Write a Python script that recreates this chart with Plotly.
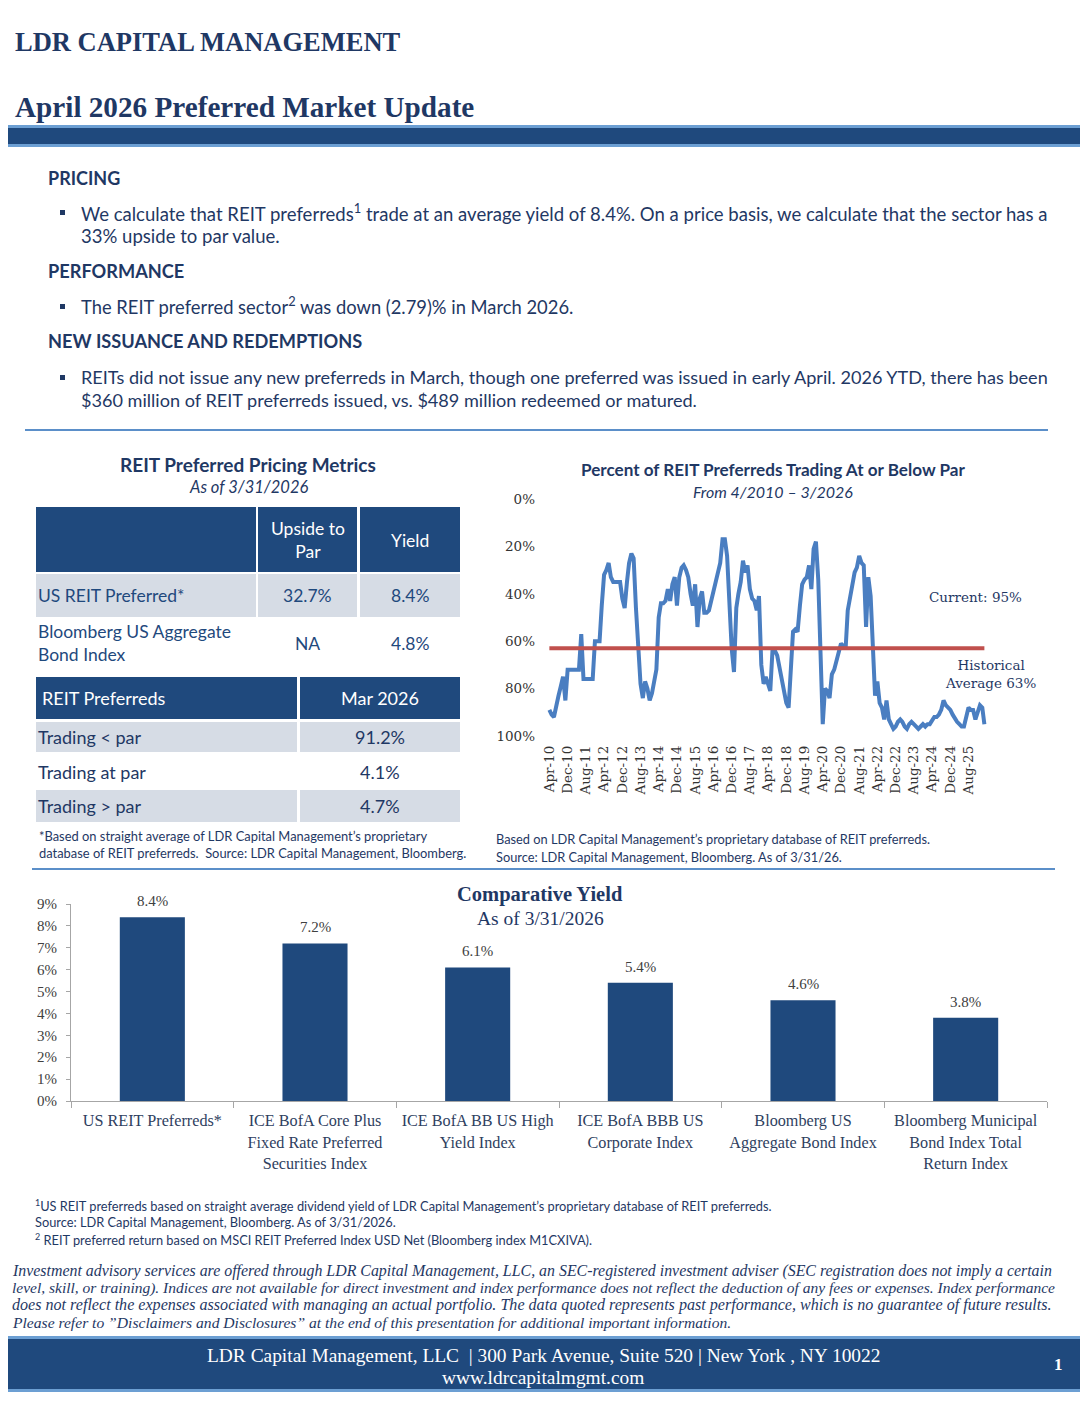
import plotly.graph_objects as go
import pandas as pd

# ---------------- DATA ----------------
pct_below_par = [
    89, 91, 92, 87, 83, 79, 75, 85, 72, 72, 72, 72, 72, 72, 57, 76, 76, 76, 76, 76,
    60, 60, 60, 45, 32, 30, 27, 33, 35, 35, 35, 35, 42, 46, 35, 27, 23, 25, 46, 62,
    78, 84, 77, 80, 85, 82, 77, 72, 50, 44, 44, 43, 38, 43, 36, 33, 45, 33, 29, 28,
    30, 33, 40, 45, 36, 54, 42, 39, 48, 48, 47, 43, 38, 34, 30, 27, 17, 17, 24, 45,
    63, 73, 46, 40, 35, 26, 31, 28, 38, 42, 43, 47, 41, 70, 78, 75, 78, 81, 63, 64,
    66, 71, 77, 82, 86, 88, 73, 56, 55, 56, 45, 36, 34, 33, 28, 38, 21, 18, 34, 70,
    95, 80, 81, 84, 74, 72, 68, 64, 61, 62, 63, 47, 42, 38, 31, 29, 24, 27, 28, 54,
    33, 41, 63, 83, 77, 86, 88, 93, 85, 93, 95, 97, 96, 94, 93, 94, 96, 97, 95, 94,
    95, 96, 97, 96, 95, 96, 95, 95, 93, 92, 92, 91, 89, 85, 87, 88, 89, 91, 93, 94,
    95, 96, 96, 92, 88, 89, 89, 93, 90, 87, 88, 95,
]
series_start = "2010-04-01"
hist_avg = 63
current_val = 95
y_ticks = [0, 20, 40, 60, 80, 100]

bar_categories = [
    "US REIT Preferreds*",
    "ICE BofA Core Plus<br>Fixed Rate Preferred<br>Securities Index",
    "ICE BofA BB US High<br>Yield Index",
    "ICE BofA BBB US<br>Corporate Index",
    "Bloomberg US<br>Aggregate Bond Index",
    "Bloomberg Municipal<br>Bond Index Total<br>Return Index",
]
bar_values = [8.4, 7.2, 6.1, 5.4, 4.6, 3.8]

tbl1_cols = ["", "Upside to<br>Par", "Yield"]
tbl1_rows = [
    ["US REIT Preferred*", "32.7%", "8.4%"],
    ["Bloomberg US Aggregate<br>Bond Index", "NA", "4.8%"],
]
tbl2_cols = ["REIT Preferreds", "Mar 2026"]
tbl2_rows = [
    ["Trading < par", "91.2%"],
    ["Trading at par", "4.1%"],
    ["Trading > par", "4.7%"],
]

# ---------------- STYLE ----------------
# The page body keeps an 8px margin, so the figure is 16px smaller than the window
OFF = 8
W, H = 1088 - 2 * OFF, 1408 - 2 * OFF
NAVY = "#1F497D"
DNAVY = "#1F3864"
LBLUE = "#6C9FD3"
GRAY_ROW = "#D6DCE5"
LINE_BLUE = "#4A7EC1"
RED = "#C0504D"
SERIF = "Liberation Serif"
SLAB = "DejaVu Serif"
SANS = "Lato"


def X(p):
    return (p - OFF) / W


def Y(p):
    return 1 - (p - OFF) / H


shapes = []
ann = []


def rect(x0, y0, x1, y1, color):
    shapes.append(dict(type="rect", xref="paper", yref="paper", x0=X(x0), x1=X(x1),
                       y0=Y(y1), y1=Y(y0), fillcolor=color, line=dict(width=0), layer="below"))


def hline(x0, x1, y, color, w):
    shapes.append(dict(type="line", xref="paper", yref="paper", x0=X(x0), x1=X(x1),
                       y0=Y(y), y1=Y(y), line=dict(color=color, width=w)))


def text(x, y, s, size, color=DNAVY, family=SANS, anchor="left", bold=False, italic=False):
    if bold:
        s = "<b>" + s + "</b>"
    if italic:
        s = "<i>" + s + "</i>"
    ann.append(dict(xref="paper", yref="paper", x=X(x), y=Y(y), text=s, showarrow=False,
                    xanchor=anchor, yanchor="middle", align=anchor,
                    font=dict(size=size, color=color, family=family)))


# ---------------- HEADER ----------------
text(13, 42, "LDR CAPITAL MANAGEMENT", 26.5, DNAVY, SERIF, bold=True)
text(13, 107, "April 2026 Preferred Market Update", 29.2, DNAVY, SERIF, bold=True)
rect(0, 125, 1088, 147, LBLUE)
rect(0, 128, 1088, 144, NAVY)

# ---------------- BODY TEXT ----------------
text(46, 178, "PRICING", 18, DNAVY, SANS, bold=True)
rect(60, 210, 65, 215, DNAVY)
text(79, 212, "We calculate that REIT preferreds<sup>1</sup> trade at an average yield of 8.4%. On a price basis, we calculate that the sector has a", 18.55)
text(79, 236, "33% upside to par value.", 18.55)
text(46, 271, "PERFORMANCE", 18.2, DNAVY, SANS, bold=True)
rect(60, 304, 65, 309, DNAVY)
text(79, 306, "The REIT preferred sector<sup>2</sup> was down (2.79)% in March 2026.", 18.35)
text(46, 341, "NEW ISSUANCE AND REDEMPTIONS", 18.2, DNAVY, SANS, bold=True)
rect(60, 375, 65, 380, DNAVY)
text(79, 377, "REITs did not issue any new preferreds in March, though one preferred was issued in early April. 2026 YTD, there has been", 18.1)
text(79, 400, "$360 million of REIT preferreds issued, vs. $489 million redeemed or matured.", 18.1)
hline(25, 1048, 430, "#5B8FC9", 2)

# ---------------- LEFT TABLES ----------------
text(248, 464, "REIT Preferred Pricing Metrics", 19, DNAVY, SANS, anchor="center", bold=True)
text(248, 487, "As of 3/31/2026", 16.5, DNAVY, SANS, anchor="center", italic=True)

TBL = 17.5
t1_x = [(36, 256), (258, 357), (360, 460)]
t1_y = [(507, 572), (574, 617), (619, 667)]
t1_fill = [NAVY, GRAY_ROW, "white"]
for ri, (ya, yb) in enumerate(t1_y):
    for (xa, xb) in t1_x:
        if t1_fill[ri] != "white":
            rect(xa, ya, xb, yb, t1_fill[ri])
for ci, c in enumerate(tbl1_cols):
    if c:
        xa, xb = t1_x[ci]
        text((xa + xb) / 2, 540, c, TBL, "white", SANS, anchor="center")
for ri, row in enumerate(tbl1_rows):
    ya, yb = t1_y[ri + 1]
    for ci, v in enumerate(row):
        xa, xb = t1_x[ci]
        if ci == 0:
            text(xa, (ya + yb) / 2, v, TBL, NAVY, SANS)
        else:
            text((xa + xb) / 2, (ya + yb) / 2, v, TBL, NAVY, SANS, anchor="center")

t2_x = [(36, 297), (300, 460)]
t2_y = [(677, 719), (722, 752), (755, 789), (790, 822)]
t2_fill = [NAVY, GRAY_ROW, "white", GRAY_ROW]
for ri, (ya, yb) in enumerate(t2_y):
    for (xa, xb) in t2_x:
        if t2_fill[ri] != "white":
            rect(xa, ya, xb, yb, t2_fill[ri])
text(40, 698, tbl2_cols[0], 18, "white", SANS)
text(380, 698, tbl2_cols[1], 18, "white", SANS, anchor="center")
for ri, row in enumerate(tbl2_rows):
    ya, yb = t2_y[ri + 1]
    text(36, (ya + yb) / 2, row[0], 18, DNAVY, SANS)
    text(380, (ya + yb) / 2, row[1], 18, DNAVY, SANS, anchor="center")
text(37, 836, "*Based on straight average of LDR Capital Management\u2019s proprietary", 12.9, DNAVY, SANS)
text(37, 853, "database of REIT preferreds.  Source: LDR Capital Management, Bloomberg.", 12.9, DNAVY, SANS)

# ---------------- RIGHT LINE CHART ----------------
text(773, 469, "Percent of REIT Preferreds Trading At or Below Par", 17.1, DNAVY, SANS, anchor="center", bold=True)
text(773, 491, "From 4/2010 \u2013 3/2026", 16, DNAVY, SANS, anchor="center", italic=True)
text(975, 597, "Current: " + str(current_val) + "%", 13.5, DNAVY, SLAB, anchor="center")
text(990, 674, "Historical<br>Average " + str(hist_avg) + "%", 13.5, DNAVY, SLAB, anchor="center")
text(494, 839, "Based on LDR Capital Management\u2019s proprietary database of REIT preferreds.", 12.8, DNAVY, SANS)
text(494, 857, "Source: LDR Capital Management, Bloomberg. As of 3/31/26.", 12.8, DNAVY, SANS)
hline(32, 1055, 869, "#5B8FC9", 2)

dates = pd.date_range(series_start, periods=len(pct_below_par), freq="MS")
x_tick_dates = dates[::8]

# ---------------- BAR CHART ----------------
text(540, 894, "Comparative Yield", 20.5, DNAVY, SERIF, anchor="center", bold=True)
text(540, 918, "As of 3/31/2026", 19.5, DNAVY, SERIF, anchor="center")
for c, v in zip(bar_categories, bar_values):
    ann.append(dict(xref="x3", yref="y3", x=c, y=v, text=f"{v:.1f}%", showarrow=False,
                    yanchor="bottom", yshift=6, font=dict(size=15, color="#404040", family=SERIF)))

# ---------------- FOOTNOTES ----------------
FN = 12.8
text(33, 1205, "<sup>1</sup>US REIT preferreds based on straight average dividend yield of LDR Capital Management\u2019s proprietary database of REIT preferreds.", FN, DNAVY, SANS)
text(33, 1222, "Source: LDR Capital Management, Bloomberg. As of 3/31/2026.", FN, DNAVY, SANS)
text(33, 1239, "<sup>2</sup> REIT preferred return based on MSCI REIT Preferred Index USD Net (Bloomberg index M1CXIVA).", FN, DNAVY, SANS)
disc = [
    "Investment advisory services are offered through LDR Capital Management, LLC, an SEC-registered investment adviser (SEC registration does not imply a certain",
    "level, skill, or training). Indices are not available for direct investment and index performance does not reflect the deduction of any fees or expenses. Index performance",
    "does not reflect the expenses associated with managing an actual portfolio. The data quoted represents past performance, which is no guarantee of future results.",
    "Please refer to \u201dDisclaimers and Disclosures\u201d at the end of this presentation for additional important information.",
]
disc_sizes = [15.9, 15.5, 16.1, 15.6]
for i, line in enumerate(disc):
    text(10, 1271 + 17 * i, line, disc_sizes[i], DNAVY, SERIF, italic=True)

rect(0, 1336, 1088, 1392, LBLUE)
rect(0, 1339, 1088, 1389, NAVY)
text(543, 1355, "LDR Capital Management, LLC  | 300 Park Avenue, Suite 520 | New York , NY 10022", 19.4, "white", SERIF, anchor="center")
text(543, 1377, "www.ldrcapitalmgmt.com", 19.4, "white", SERIF, anchor="center")
text(1058, 1364, "1", 17, "white", SERIF, anchor="center", bold=True)

# ---------------- FIGURE ----------------
fig = go.Figure()
fig.add_trace(go.Scatter(x=dates, y=pct_below_par, mode="lines", line=dict(color=LINE_BLUE, width=4),
                         xaxis="x2", yaxis="y2", showlegend=False, hoverinfo="skip"))
fig.add_trace(go.Scatter(x=[dates[0], dates[-1]], y=[hist_avg, hist_avg], mode="lines",
                         line=dict(color=RED, width=4), xaxis="x2", yaxis="y2", showlegend=False,
                         hoverinfo="skip"))
fig.add_trace(go.Bar(x=bar_categories, y=bar_values, marker=dict(color=NAVY, line=dict(width=0)),
                     xaxis="x3", yaxis="y3", showlegend=False, hoverinfo="skip"))

fig.update_layout(
    width=W, height=H, margin=dict(l=0, r=0, t=0, b=0, pad=0), autosize=False,
    paper_bgcolor="white", plot_bgcolor="rgba(0,0,0,0)",
    shapes=shapes, annotations=ann, bargap=0.6,
    xaxis2=dict(domain=[X(546), X(990)], anchor="y2", type="date", automargin=False,
                range=["2010-02-15", "2026-05-15"], tickvals=list(x_tick_dates),
                tickformat="%b-%y", tickangle=-90, showgrid=False, zeroline=False,
                showline=False, ticks="", ticklabelstandoff=6,
                tickfont=dict(family=SLAB, size=13.5, color="#333333")),
    yaxis2=dict(domain=[Y(736), Y(499)], anchor="x2", range=[100, 0], tickvals=y_ticks,
                ticktext=[f"{v}%" for v in y_ticks], showgrid=False, zeroline=False, automargin=False,
                showline=False, ticks="", ticklabelstandoff=10,
                tickfont=dict(family=SLAB, size=13.5, color="#333333")),
    xaxis3=dict(domain=[X(71), X(1047)], anchor="y3", type="category", range=[-0.5, 5.5],
                automargin=False, tickangle=0,
                showline=True, linecolor="#A6A6A6", linewidth=1, ticks="outside", tickson="boundaries",
                ticklen=6, tickcolor="#A6A6A6", showgrid=False, ticklabelstandoff=5,
                tickfont=dict(family=SERIF, size=16.2, color="#2F3F5F")),
    yaxis3=dict(domain=[Y(1101), Y(904)], anchor="x3", range=[0, 9], dtick=1, ticksuffix="%",
                automargin=False,
                showline=True, linecolor="#A6A6A6", linewidth=1, ticks="outside", ticklen=4,
                tickcolor="#A6A6A6", showgrid=False, zeroline=False, ticklabelstandoff=6,
                tickfont=dict(family=SERIF, size=15, color="#404040")),
)

fig.write_html("out.html", config={"displayModeBar": False, "staticPlot": True})
